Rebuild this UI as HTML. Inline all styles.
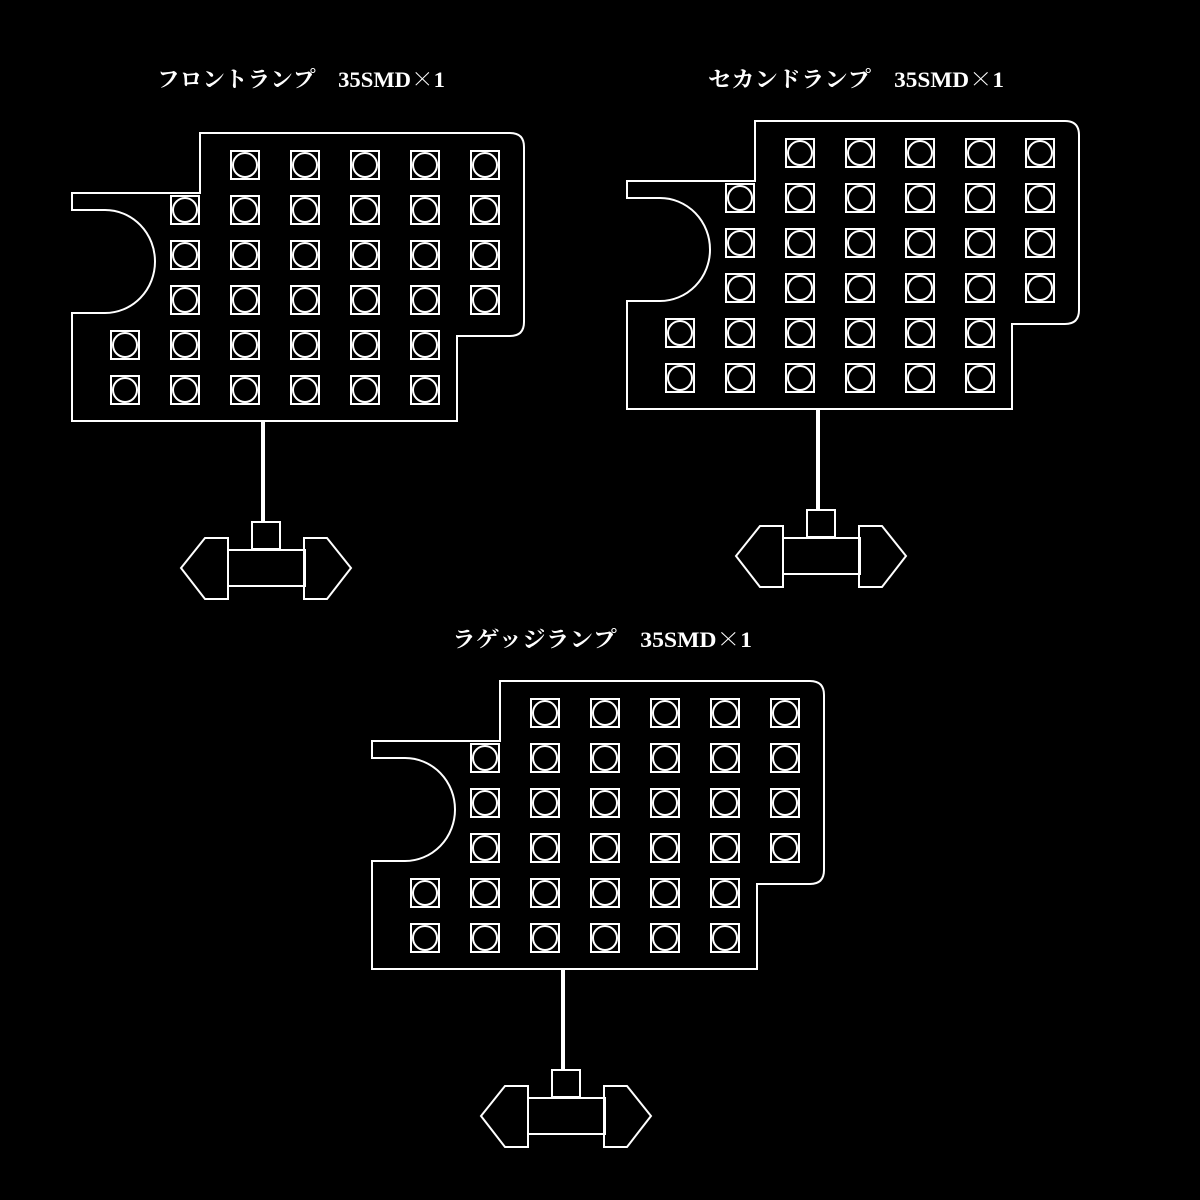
<!DOCTYPE html>
<html><head><meta charset="utf-8"><style>html,body{margin:0;padding:0;background:#000}svg{display:block}</style></head>
<body>
<svg width="1200" height="1200" viewBox="0 0 1200 1200" xmlns="http://www.w3.org/2000/svg">
<rect width="1200" height="1200" fill="#000"/>
<defs>
<g id="led"><rect x="-14" y="-14" width="28" height="28" fill="none" stroke="#fff" stroke-width="2"/><circle r="12" fill="none" stroke="#fff" stroke-width="2"/></g>
<g id="board">
<path d="M200,133 H510 Q524,133 524,147 V322 Q524,336 510,336 H457 V421 H72 V313 H105 A50,51.5 0 0 0 105,210 H72 V193 H200 Z" fill="none" stroke="#fff" stroke-width="2"/>
<use href="#led" x="245" y="165"/><use href="#led" x="305" y="165"/><use href="#led" x="365" y="165"/><use href="#led" x="425" y="165"/><use href="#led" x="485" y="165"/>
<use href="#led" x="185" y="210"/><use href="#led" x="245" y="210"/><use href="#led" x="305" y="210"/><use href="#led" x="365" y="210"/><use href="#led" x="425" y="210"/><use href="#led" x="485" y="210"/>
<use href="#led" x="185" y="255"/><use href="#led" x="245" y="255"/><use href="#led" x="305" y="255"/><use href="#led" x="365" y="255"/><use href="#led" x="425" y="255"/><use href="#led" x="485" y="255"/>
<use href="#led" x="185" y="300"/><use href="#led" x="245" y="300"/><use href="#led" x="305" y="300"/><use href="#led" x="365" y="300"/><use href="#led" x="425" y="300"/><use href="#led" x="485" y="300"/>
<use href="#led" x="125" y="345"/><use href="#led" x="185" y="345"/><use href="#led" x="245" y="345"/><use href="#led" x="305" y="345"/><use href="#led" x="365" y="345"/><use href="#led" x="425" y="345"/>
<use href="#led" x="125" y="390"/><use href="#led" x="185" y="390"/><use href="#led" x="245" y="390"/><use href="#led" x="305" y="390"/><use href="#led" x="365" y="390"/><use href="#led" x="425" y="390"/>
<line x1="263" y1="421" x2="263" y2="523" stroke="#fff" stroke-width="4"/>
<rect x="252" y="522" width="28" height="27" fill="none" stroke="#fff" stroke-width="2"/>
<rect x="228" y="550" width="77" height="36" fill="none" stroke="#fff" stroke-width="2"/>
<polygon points="228,538 205,538 181,568 205,599 228,599" fill="none" stroke="#fff" stroke-width="2"/>
<polygon points="304,538 327,538 351,568 327,599 304,599" fill="none" stroke="#fff" stroke-width="2"/>
</g>
</defs>
<use href="#board"/>
<use href="#board" transform="translate(555,-12)"/>
<use href="#board" transform="translate(300,548)"/>
<g fill="#fff" font-family="'Liberation Serif','Noto Serif CJK JP','Noto Serif CJK SC',serif" font-size="22" font-weight="bold">
<text x="157" y="87" textLength="288" lengthAdjust="spacingAndGlyphs">フロントランプ　35SMD<tspan font-family="'Noto Serif CJK JP',serif" font-weight="normal">×</tspan>1</text>
<text x="708" y="87" textLength="296" lengthAdjust="spacingAndGlyphs">セカンドランプ　35SMD<tspan font-family="'Noto Serif CJK JP',serif" font-weight="normal">×</tspan>1</text>
<text x="452" y="647" textLength="300" lengthAdjust="spacingAndGlyphs">ラゲッジランプ　35SMD<tspan font-family="'Noto Serif CJK JP',serif" font-weight="normal">×</tspan>1</text>
</g>
</svg>
</body></html>
